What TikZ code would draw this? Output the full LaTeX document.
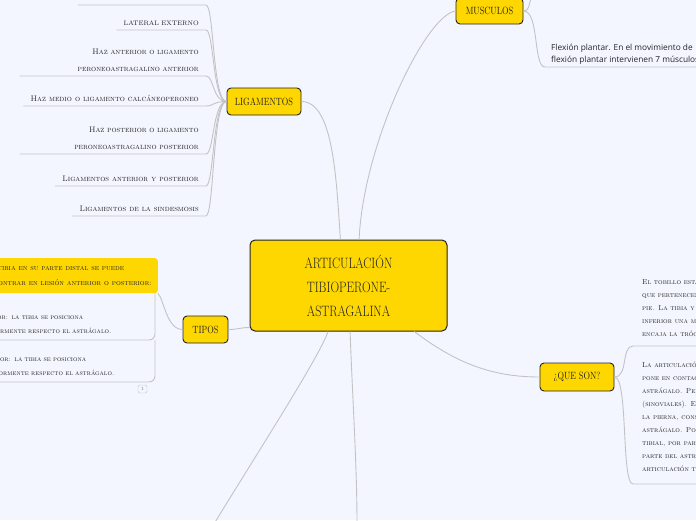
\documentclass[tikz,border=0pt]{standalone}
\usepackage{fontspec}
\usepackage{graphicx}
\usepackage{tikz}
\usetikzlibrary{arrows.meta}
\usepackage{xcolor}
\newfontfamily\notesans{Open Sans}
\definecolor{mapbg}{RGB}{243,246,254}
\definecolor{topicyellow}{RGB}{255,215,0}
\definecolor{linkgray}{RGB}{195,195,198}
\definecolor{inkgray}{RGB}{35,35,35}

% texto de los temas, un poco estrecho
\newcommand{\cond}[1]{\scalebox{0.8}[1]{#1}}

\tikzset{
  mainnode/.style={draw=inkgray, line width=1pt, fill=topicyellow, rounded corners=5pt, align=center, text=inkgray},
  topicnode/.style={draw=inkgray, line width=0.9pt, fill=topicyellow, rounded corners=4pt, inner sep=0pt, text=inkgray, font=\fontsize{10.5}{12}\selectfont},
  ligleaf/.style={align=right, anchor=south east, inner xsep=7pt, inner ysep=4pt, text=inkgray, font=\scshape\fontsize{8}{17}\selectfont},
  tipleaf/.style={align=left, anchor=south east, inner xsep=7pt, inner ysep=6pt, text=inkgray, font=\scshape\fontsize{7}{14}\selectfont},
  queleaf/.style={align=left, anchor=south west, inner xsep=9pt, text=inkgray, font=\scshape\fontsize{7.2}{13}\selectfont},
  branch/.style={draw=linkgray, line width=0.9pt},
}

\begin{document}
\begin{tikzpicture}[x=1pt, y=1pt, >=Stealth]
        \useasboundingbox (0,0) rectangle (696,-520);
        \fill[mapbg] (0,0) rectangle (696,-520);
        \clip (0,0) rectangle (696,-520);

        % --- Tema central ---
        \node[mainnode, minimum width=197pt, minimum height=91pt, font=\fontsize{15}{24}\selectfont] (art) at (348.5,-285.5)
            {\cond{ARTICULACIÓN}\\\cond{TIBIOPERONE-}\\\cond{ASTRAGALINA}};

        % --- Temas principales ---
        \node[topicnode, minimum width=74pt, minimum height=27pt] (lig) at (264,-101.5) {\cond{LIGAMENTOS}};
        \node[topicnode, minimum width=67pt, minimum height=26pt] (mus) at (489.5,-11) {\cond{MUSCULOS}};
        \node[topicnode, minimum width=45pt, minimum height=27pt] (tipos) at (205.5,-329.5) {\cond{TIPOS}};
        \node[topicnode, minimum width=74pt, minimum height=28pt] (queson) at (577,-377) {\cond{¿QUE SON?}};

        % ramas que salen del centro
        \coordinate (bl) at (214,-524);
        \coordinate (bb) at (357,-524);
        \draw[branch] (art.100) .. controls +(-4,60) and +(32,0) .. (lig.east);
        \draw[branch] (art.77) .. controls +(4,95) and +(-30,-4) .. (mus.west);
        \draw[branch] (art.203) .. controls +(-10,0) and +(10,0) .. (tipos.east);
        \draw[branch] (art.-35) .. controls +(40,-30) and +(-50,0) .. (queson.west);
        \draw[branch] (art.-114) .. controls +(-8,-25) and +(30,50) .. (bl);
        \draw[branch] (art.-88) .. controls +(2,-60) and +(0,60) .. (bb);

        % --- Ligamentos ---
        \coordinate (lig0w) at (78,-5);
        \coordinate (lig0e) at (206,-5);
        \node[ligleaf, font=\fontsize{6.5}{17}\selectfont] (lig1) at (206,-30) {LATERAL EXTERNO};
        \node[ligleaf, text width=172pt] (lig2) at (206,-76) {Haz anterior o ligamento\\peroneoastragalino anterior};
        \node[ligleaf] (lig3) at (206,-106) {Haz medio o ligamento calcáneoperoneo};
        \node[ligleaf, text width=172pt] (lig4) at (206,-154) {Haz posterior o ligamento\\peroneoastragalino posterior};
        \node[ligleaf] (lig5) at (206,-186) {Ligamentos anterior y posterior};
        \node[ligleaf] (lig6) at (206,-216) {Ligamentos de la sindesmosis};

        \draw[branch] (lig0w) -- (lig0e) .. controls +(8,0) and +(-14,0) .. (lig.west);
        \foreach \n in {lig1,lig2,lig3,lig4,lig5,lig6}
            \draw[branch] (\n.south west) -- (\n.south east) .. controls +(8,0) and +(-14,0) .. (lig.west);

        % --- Musculos ---
        \coordinate (mus0) at (531,2);
        \node[anchor=south west, align=left, inner xsep=6pt, inner ysep=2pt, text=inkgray,
              font=\notesans\fontsize{8.3}{12}\selectfont] (mus1) at (545,-67)
            {Flexión plantar. En el movimiento de\\flexión plantar intervienen 7 músculos};
        \draw[branch] (mus.east) .. controls +(6,0) and +(-2,-6) .. (mus0);
        \draw[branch] (mus.east) .. controls +(16,0) and +(-12,0) .. (mus1.south west) -- (mus1.south east);

        % --- Tipos ---
        \node[fill=topicyellow, rounded corners=3pt, anchor=north east, align=left, inner xsep=6pt,
              minimum height=35pt, text=inkgray, font=\scshape\fontsize{7.6}{15}\selectfont] (tip1) at (158,-258)
            {La tibia en su parte distal se puede\\encontrar en lesión anterior o posterior:};
        \node[tipleaf, text width=175pt] (tip2) at (155,-340) {Anterior: la tibia se posiciona\\anteriormente respecto el astrágalo.};
        \node[tipleaf, text width=175pt] (tip3) at (155,-382) {Posterior: la tibia se posiciona\\posteriormente respecto el astrágalo.};
        \node[draw=linkgray, rounded corners=1.5pt, inner sep=0pt, minimum width=9pt, minimum height=8pt,
              text=gray, font=\fontsize{5}{5}\selectfont] (badge) at (142.5,-389) {1};

        \draw[branch] (tipos.west) .. controls +(-16,0) and +(6,-6) .. (tip1.south east);
        \draw[branch, rounded corners=6pt] (tip2.south west) -- (tip2.south east) -- (tip2.south east |- tip1.south);
        \draw[branch, rounded corners=6pt] (tip3.south west) -- (tip3.south east) -- (tip2.south east);

        % --- Que son ---
        \node[queleaf, inner ysep=9pt] (q1) at (633,-346)
            {El tobillo está formado por tres huesos\\que pertenecen a la pierna y al\\pie. La tibia y el peroné forman en su parte\\inferior una mortaja en la que se\\encaja la tróclea del astrágalo.};
        \node[queleaf, inner ysep=12pt] (q2) at (633,-484)
            {La articulación tibioperonea-astragalina\\pone en contacto la tibia y el peroné con el\\astrágalo. Pertenece a las diartrosis\\(sinoviales). Es la unión entre\\la pierna, constituida por tibia y peroné, y el\\astrágalo. Por ello, la superficie\\tibial, por parte de la tibia y peroné, y por\\parte del astrágalo, forma la\\articulación tibioperonea-astragalina.};

        \draw[branch] (queson.east) .. controls +(14,0) and +(-12,0) .. (q1.south west) -- (q1.south east);
        \draw[branch] (queson.east) .. controls +(14,0) and +(-12,0) .. (q2.south west) -- (q2.south east);
    \end{tikzpicture}
\end{document}
